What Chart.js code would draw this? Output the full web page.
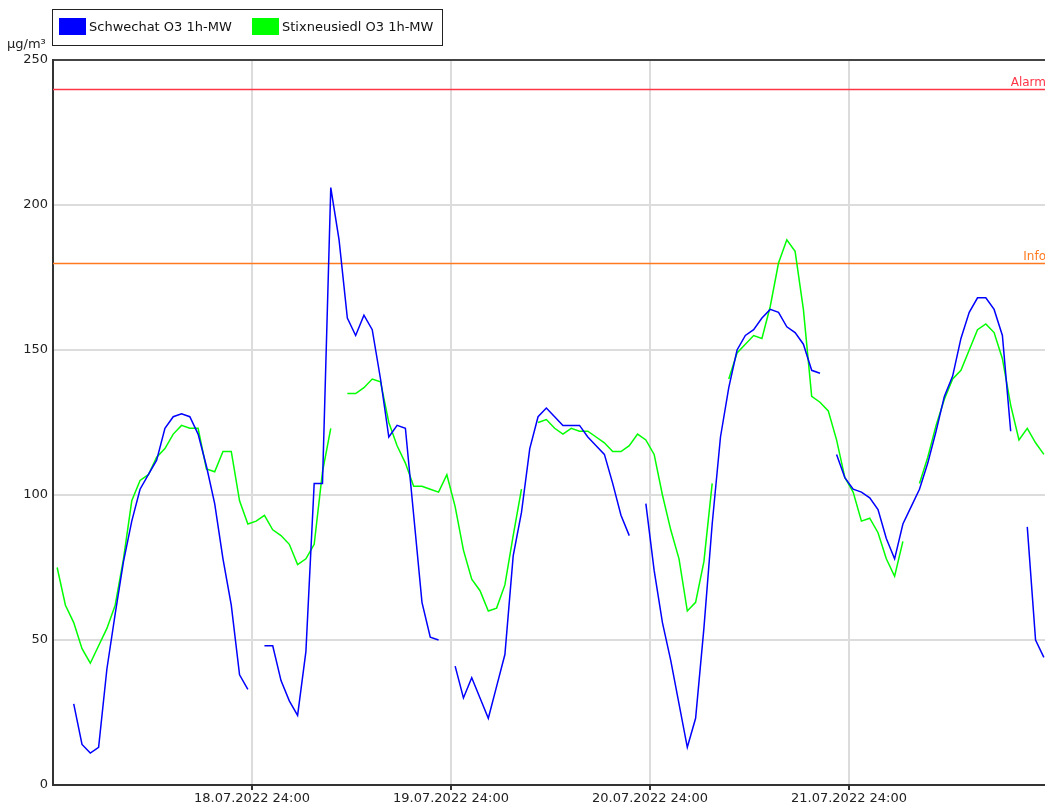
<!DOCTYPE html>
<html>
<head>
<meta charset="utf-8">
<script src="https://cdn.jsdelivr.net/npm/chart.js@4.4.1/dist/chart.umd.min.js"></script>
<style>
  html, body { margin: 0; padding: 0; background: #fff; overflow: hidden; }
  #wrap { position: relative; width: 1045px; height: 807px; overflow: hidden; }
  #chart { position: absolute; left: 0; top: 0; }
  .unit { position: absolute; left: 7px; top: 36px; font: 13px "DejaVu Sans", sans-serif; color: #222; }
  .legend { position: absolute; left: 52px; top: 9px; width: 389px; height: 35px;
            border: 1px solid #222; background: #fff; font: 13px "DejaVu Sans", sans-serif; color: #111; }
  .sw { position: absolute; top: 8px; width: 27px; height: 17px; }
  .lt { position: absolute; top: 8px; line-height: 17px; white-space: nowrap; }
</style>
</head>
<body>
<div id="wrap">
  <canvas id="chart" width="1060" height="807"></canvas>
  <div class="unit" id="unit"></div>
  <div class="legend" id="legend"></div>
</div>
<script>
// Hourly ozone means (µg/m³), one value per hour starting 18.07.2022 00:00; null = no value
const schwechat = [
  null, null, 28, 14, 11, 13, 40, 59, 77, 91, 102, 107, 112, 123, 127, 128, 127, 121, 110, 97, 78, 62, 38, 33,
  null, 48, 48, 36, 29, 24, 46, 104, 104, 206, 188, 161, 155, 162, 157, 140, 120, 124, 123, 93, 63, 51, 50, null,
  41, 30, 37, 30, 23, 34, 45, 79, 94, 116, 127, 130, 127, 124, 124, 124, 120, 117, 114, 104, 93, 86, null, 97,
  74, 56, 43, 28, 13, 23, 54, 90, 120, 137, 150, 155, 157, 161, 164, 163, 158, 156, 152, 143, 142, null, 114, 106,
  102, 101, 99, 95, 85, 78, 90, 96, 102, 111, 122, 134, 141, 154, 163, 168, 168, 164, 155, 122, null, 89, 50, 44
];
const stixneusiedl = [
  75, 62, 56, 47, 42, 48, 54, 62, 78, 98, 105, 107, 113, 116, 121, 124, 123, 123, 109, 108, 115, 115, 98, 90,
  91, 93, 88, 86, 83, 76, 78, 83, 108, 123, null, 135, 135, 137, 140, 139, 125, 117, 111, 103, 103, 102, 101, 107,
  96, 81, 71, 67, 60, 61, 69, 86, 102, null, 125, 126, 123, 121, 123, 122, 122, 120, 118, 115, 115, 117, 121, 119,
  114, 100, 88, 78, 60, 63, 77, 104, null, 140, 149, 152, 155, 154, 165, 180, 188, 184, 164, 134, 132, 129, 119, 106,
  101, 91, 92, 87, 78, 72, 84, null, 104, 113, 124, 133, 140, 143, 150, 157, 159, 156, 147, 131, 119, 123, 118, 114
];
const seriesNames = ['Schwechat O3 1h-MW', 'Stixneusiedl O3 1h-MW'];
const seriesColors = ['#0000ff', '#00ff00'];

// Axis ticks (hours from 18.07.2022 00:00)
const tickHours = [24, 48, 72, 96];
const tickLabels = ['18.07.2022 24:00', '19.07.2022 24:00', '20.07.2022 24:00', '21.07.2022 24:00'];
const yTicks = [0, 50, 100, 150, 200, 250];
const unitLabel = 'µg/m³';

// Threshold lines
const thresholdValues = [240, 180];
const thresholdLabels = ['Alarm', 'Info'];
const thresholdColors = ['#ff3447', '#ff7a1f'];

const FONT = '"DejaVu Sans", sans-serif';

// hourly means are plotted at the middle of their hour
const toPoints = arr => arr.map((v, i) => ({ x: i + 0.5, y: v }));

document.getElementById('unit').textContent = unitLabel;
const legend = document.getElementById('legend');
const legendPos = [[6, 36], [199, 229]];
seriesNames.forEach((name, i) => {
  const sw = document.createElement('div');
  sw.className = 'sw';
  sw.style.left = legendPos[i][0] + 'px';
  sw.style.background = seriesColors[i];
  const t = document.createElement('div');
  t.className = 'lt';
  t.style.left = legendPos[i][1] + 'px';
  t.textContent = name;
  legend.appendChild(sw);
  legend.appendChild(t);
});

const thresholdPlugin = {
  id: 'thresholds',
  beforeDatasetsDraw(chart) {
    const { ctx, chartArea: a, scales: { y } } = chart;
    ctx.save();
    thresholdValues.forEach((v, i) => {
      const py = Math.round(y.getPixelForValue(v)) + 0.5;
      ctx.strokeStyle = thresholdColors[i];
      ctx.lineWidth = 1.5;
      ctx.beginPath();
      ctx.moveTo(a.left, py);
      ctx.lineTo(a.right, py);
      ctx.stroke();
      ctx.fillStyle = thresholdColors[i];
      ctx.font = '12px ' + FONT;
      ctx.textAlign = 'right';
      ctx.textBaseline = 'bottom';
      ctx.fillText(thresholdLabels[i], a.right - 2, py - 1);
    });
    ctx.restore();
  }
};

new Chart(document.getElementById('chart'), {
  type: 'line',
  data: {
    datasets: [
      { label: seriesNames[0], data: toPoints(schwechat), borderColor: seriesColors[0], borderWidth: 1.5,
        pointRadius: 0, tension: 0, spanGaps: false },
      { label: seriesNames[1], data: toPoints(stixneusiedl), borderColor: seriesColors[1], borderWidth: 1.5,
        pointRadius: 0, tension: 0, spanGaps: false }
    ]
  },
  options: {
    responsive: false,
    animation: false,
    devicePixelRatio: 1,
    layout: { padding: { top: 60, right: 12, left: 0, bottom: 0 } },
    plugins: { legend: { display: false }, tooltip: { enabled: false } },
    scales: {
      x: {
        type: 'linear', min: 0, max: 120,
        afterBuildTicks: s => { s.ticks = tickHours.map(v => ({ value: v })); },
        afterFit: s => { s.height = 22; },
        ticks: {
          autoSkip: false, maxRotation: 0, padding: 1, color: '#222',
          font: { family: FONT, size: 13 },
          callback: v => tickLabels[tickHours.indexOf(v)]
        },
        grid: { color: '#dcdcdc', lineWidth: 2, tickColor: '#333', tickLength: 5, drawTicks: true },
        border: { color: '#333', width: 2 }
      },
      y: {
        type: 'linear', min: 0, max: 250,
        afterBuildTicks: s => { s.ticks = yTicks.map(v => ({ value: v })); },
        afterFit: s => { s.width = 53; },
        ticks: { padding: 5, color: '#222', font: { family: FONT, size: 13 } },
        grid: {
          drawTicks: false,
          color: c => (c.tick && c.tick.value === 250) ? '#444' : (c.tick && c.tick.value === 0 ? 'rgba(0,0,0,0)' : '#dcdcdc'),
          lineWidth: 2
        },
        border: { color: '#333', width: 2 }
      }
    }
  },
  plugins: [thresholdPlugin]
});
</script>
</body>
</html>
